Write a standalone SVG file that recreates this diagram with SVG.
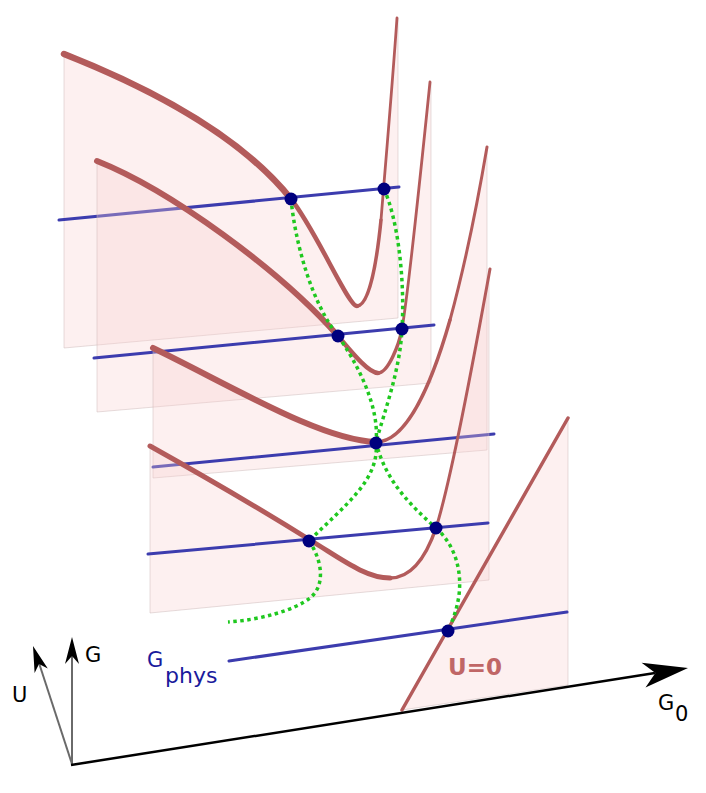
<svg xmlns="http://www.w3.org/2000/svg" width="706" height="793" viewBox="0 0 706 793">
<defs>
<style>
.panel{fill:#f9cfcf;fill-opacity:0.32;stroke:#c8b4b4;stroke-opacity:0.45;stroke-width:1}
.curve{fill:none;stroke:#b35b5b;stroke-linecap:round;stroke-linejoin:round}
.gline{fill:none;stroke:#3c3cae;stroke-width:3;stroke-linecap:round}
.green{fill:none;stroke:#1fc81f;stroke-width:3.5;stroke-dasharray:3.5 3.5}
.dot{fill:#00007e}
.shaft{fill:none;stroke:#6a6a6a;stroke-width:2}
.lbl{font-family:"DejaVu Sans",sans-serif;font-size:21px;fill:#000}
</style>
</defs>
<rect width="706" height="793" fill="#fff"/>

<g id="slice1">
<path class="panel" d="M64,348 L64,54 C150,88 240,135 291,199 C316,230 348,306 357,306 C368,306 376,270 381,220 C385,170 392,90 397,18 L398,18 L398,318 Z"/>
<path class="curve" stroke-width="6.5" d="M64,54 C150,88 240,135 291,199"/>
<path class="curve" stroke-width="4.5" d="M291,199 C316,230 348,306 357,306"/>
<path class="curve" stroke-width="3.5" d="M357,306 C368,306 376,270 381,220"/>
<path class="curve" stroke-width="2.8" d="M381,220 C385,170 392,90 397,18"/>
<line class="gline" x1="59" y1="220" x2="399" y2="187"/>
</g>

<g id="slice2">
<path class="panel" d="M97,412 L97,161 C170,190 280,270 338,336 C350,350 368,373 378,373 C388,373 399,345 402,329 C407,300 420,180 430,82 L431,82 L431,383 Z"/>
<path class="curve" stroke-width="6" d="M97,161 C170,190 280,270 338,336"/>
<path class="curve" stroke-width="4.5" d="M338,336 C350,350 368,373 378,373"/>
<path class="curve" stroke-width="3.5" d="M378,373 C388,373 399,345 402,329"/>
<path class="curve" stroke-width="2.8" d="M402,329 C407,300 420,180 430,82"/>
<line class="gline" x1="94" y1="358" x2="434" y2="325"/>
</g>

<g id="slice3">
<path class="panel" d="M153,478 L153,348 C230,385 320,440 376,442 C405,442 430,390 450,320 C465,265 478,200 487,147 L487,450 Z"/>
<path class="curve" stroke-width="6" d="M153,348 C230,385 320,440 376,442"/>
<path class="curve" stroke-width="3.5" d="M376,442 C405,442 430,390 450,320"/>
<path class="curve" stroke-width="3" d="M450,320 C465,265 478,200 487,147"/>
<line class="gline" x1="153" y1="467" x2="494" y2="434"/>
</g>

<g id="slice4">
<path class="panel" d="M150,613 L150,446 C200,474 270,515 310,540 C340,558 365,578 390,578 C410,578 425,560 436,528 C448,490 470,380 490,269 L489,269 L489,580 Z"/>
<path class="curve" stroke-width="5" d="M150,446 C200,474 270,515 310,540 C340,558 365,578 390,578"/>
<path class="curve" stroke-width="3.5" d="M390,578 C410,578 425,560 436,528"/>
<path class="curve" stroke-width="3" d="M436,528 C448,490 470,380 490,269"/>
<line class="gline" x1="148" y1="554" x2="488" y2="523"/>
</g>

<g id="slice5">
<path class="panel" d="M402,710 L568,418 L568,685 Z"/>
<path class="curve" stroke="#c26b6b" stroke-width="3.5" d="M402,710 L568,418"/>
<line class="gline" x1="229" y1="661" x2="567" y2="612"/>
</g>

<g id="connectors">
<path class="green" d="M291,199 C295,240 310,300 338,336 C355,360 380,405 376,442"/>
<path class="green" d="M384,189 C398,220 405,280 402,329 C400,370 385,410 376,442"/>
<path class="green" d="M376,442 C380,480 345,505 309,541"/>
<path class="green" d="M309,541 C322,560 326,585 310,598 C295,610 260,620 228,622"/>
<path class="green" d="M376,442 C385,480 410,505 436,528"/>
<path class="green" d="M436,528 C455,545 462,570 459,595 C457,610 452,622 448,631"/>
</g>

<g id="points">
<circle class="dot" cx="291" cy="199" r="6.5"/>
<circle class="dot" cx="384" cy="189" r="6.5"/>
<circle class="dot" cx="338" cy="336" r="6.5"/>
<circle class="dot" cx="402" cy="329" r="6.5"/>
<circle class="dot" cx="376" cy="443" r="6.5"/>
<circle class="dot" cx="309" cy="541" r="6.5"/>
<circle class="dot" cx="436" cy="528" r="6.5"/>
<circle class="dot" cx="448" cy="631" r="6.5"/>
</g>

<g id="axes">
<line class="shaft" x1="72" y1="764" x2="72" y2="654"/>
<path d="M72,637 L79,664 L72,656 L65,664 Z" fill="#000"/>
<line class="shaft" x1="72" y1="764" x2="39" y2="663"/>
<path d="M33,646 L47.8,668.5 L39,664 L34.6,672.9 Z" fill="#000"/>
<line x1="71" y1="765" x2="655" y2="673" stroke="#000" stroke-width="2.5"/>
<path d="M688,668 L645.5,687.4 L655.4,673.1 L641.6,662.7 Z" fill="#000"/>
</g>

<g id="labels">
<text class="lbl" x="12" y="702">U</text>
<text class="lbl" x="85" y="662">G</text>
<text class="lbl" x="658" y="710">G</text>
<text class="lbl" x="675" y="721">0</text>
<text x="147" y="667" font-family="DejaVu Sans, sans-serif" font-size="21" fill="#1a1a9c">G</text>
<text x="165" y="683" font-family="DejaVu Sans, sans-serif" font-size="22" fill="#1a1a9c">phys</text>
<text x="448" y="675" font-family="DejaVu Sans, sans-serif" font-size="23" font-weight="bold" fill="#c06666">U=0</text>
</g>
</svg>
